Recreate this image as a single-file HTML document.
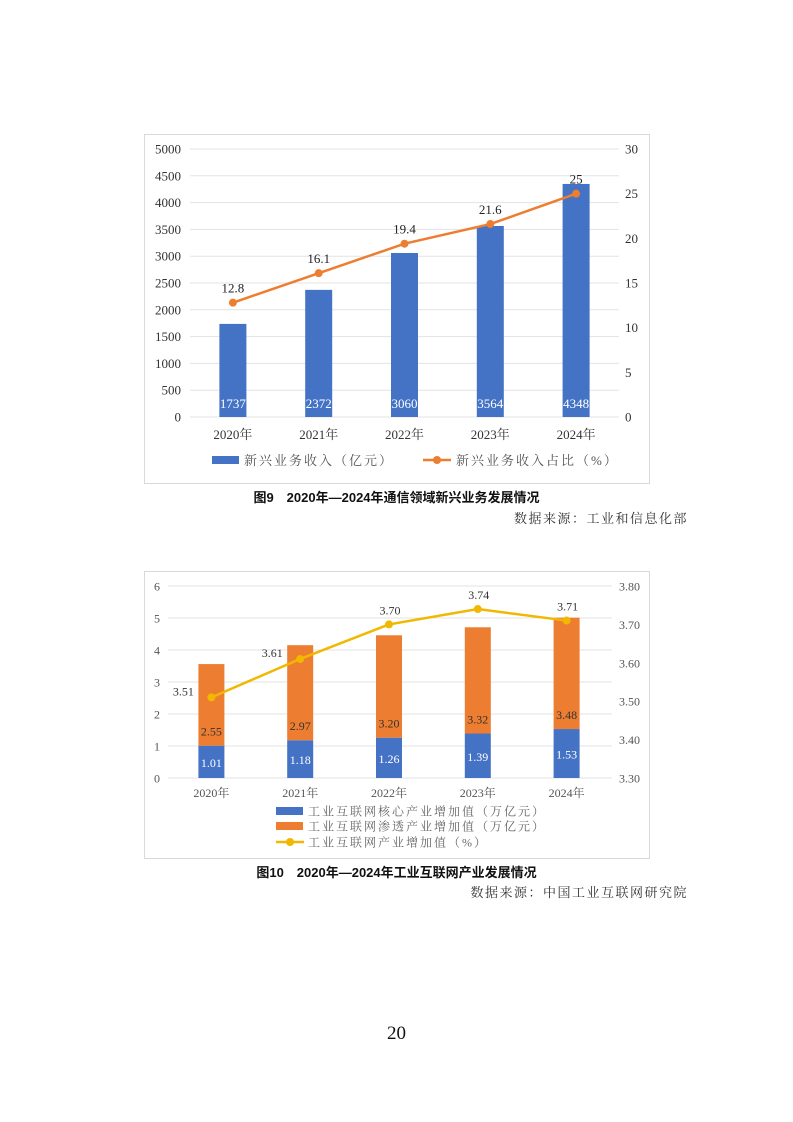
<!DOCTYPE html>
<html><head><meta charset="utf-8">
<style>
html,body{margin:0;padding:0;background:#fff;}
body{width:793px;height:1122px;position:relative;overflow:hidden;font-family:"Liberation Serif","Noto Serif CJK SC",serif;}
.cap{position:absolute;left:0;width:793px;text-align:center;font-family:"Liberation Sans","Noto Sans CJK SC",sans-serif;font-weight:bold;font-size:13px;color:#111;}
.src{position:absolute;right:105px;font-family:"Liberation Serif","Noto Serif CJK SC",serif;font-size:13px;color:#333;letter-spacing:1.5px;}
svg text{font-family:"Liberation Serif","Noto Serif CJK SC",serif;}
</style></head><body>
<svg id="c1" style="position:absolute;left:0;top:0" width="793" height="560"></svg>
<div class="cap" style="top:487px">图9　2020年—2024年通信领域新兴业务发展情况</div>
<div class="src" style="top:508px">数据来源：工业和信息化部</div>
<svg id="c2" style="position:absolute;left:0;top:0" width="793" height="900"></svg>
<div class="cap" style="top:862px">图10　2020年—2024年工业互联网产业发展情况</div>
<div class="src" style="top:882px">数据来源：中国工业互联网研究院</div>
<div style="position:absolute;left:0;width:793px;top:1023px;text-align:center;font-size:19px;color:#111;">20</div>
<script>
const cats1=["2020年","2021年","2022年","2023年","2024年"];
const revenue=[1737,2372,3060,3564,4348];
const share=[12.8,16.1,19.4,21.6,25];
const leftTicks1=[0,500,1000,1500,2000,2500,3000,3500,4000,4500,5000];
const rightTicks1=[0,5,10,15,20,25,30];

const cats2=["2020年","2021年","2022年","2023年","2024年"];
const core=[1.01,1.18,1.26,1.39,1.53];
const pen=[2.55,2.97,3.20,3.32,3.48];
const pct=[3.51,3.61,3.70,3.74,3.71];
const leftTicks2=[0,1,2,3,4,5,6];
const rightTicks2=[3.30,3.40,3.50,3.60,3.70,3.80];

const NS="http://www.w3.org/2000/svg";
function el(p,tag,a,txt){const e=document.createElementNS(NS,tag);for(const k in a)e.setAttribute(k,a[k]);if(txt!==undefined)e.textContent=txt;p.appendChild(e);return e;}

// Chart 1
(function(){
const s=document.getElementById('c1');
const f=el(s,'rect',{x:144.5,y:134.5,width:505,height:349,fill:'#fff',stroke:'#d9d9d9'});


const x0=190,x1=619,yT=149,yB=417;
const y=v=>yB-(v/5000)*(yB-yT);
const y2=v=>yB-(v/30)*(yB-yT);
const bw=(x1-x0)/cats1.length;
const cx=i=>x0+bw*(i+0.5)+0;
leftTicks1.forEach(t=>{
  const g=el(s,'line',{x1:x0,x2:x1,y1:y(t),y2:y(t),stroke:'#e3e3e3','stroke-width':1});
  
  
  const l=el(s,'text',{x:181,y:y(t)+4.5,'text-anchor':'end','font-size':13,fill:'#333'},t);
  
  
});
rightTicks1.forEach(t=>{
  const l=el(s,'text',{x:625,y:y2(t)+4.5,'font-size':13,fill:'#333'},t);
  
  
});
revenue.forEach((v,i)=>{
  const b=el(s,'rect',{x:cx(i)-13.5,y:y(v),width:27,height:yB-y(v),fill:'#4472c4'});
  
  
  const t=el(s,'text',{x:cx(i),y:408,'text-anchor':'middle','font-size':13,fill:'#fff'},v);
  
  
  const c=el(s,'text',{x:cx(i),y:439,'text-anchor':'middle','font-size':13,fill:'#333'},cats1[i]);
  
  
});
const pl=el(s,'polyline',{points:share.map((v,i)=>cx(i)+','+y2(v)).join(' '),fill:'none',stroke:'#ed7d31','stroke-width':2.5});


share.forEach((v,i)=>{
  const d=el(s,'circle',{cx:cx(i),cy:y2(v),r:4,fill:'#ed7d31'});
  
  
  const t=el(s,'text',{x:cx(i),y:y2(v)-10,'text-anchor':'middle','font-size':13,fill:'#222'},v);
  
  
});
const lr=el(s,'rect',{x:212,y:456,width:27,height:8,fill:'#4472c4'});


const lt=el(s,'text',{x:244,y:465,'font-size':13,fill:'#555','letter-spacing':'2'},'新兴业务收入（亿元）');


const ll=el(s,'line',{x1:423,x2:451,y1:460,y2:460,stroke:'#ed7d31','stroke-width':2.5});


const lc=el(s,'circle',{cx:437,cy:460,r:4,fill:'#ed7d31'});


const lt2=el(s,'text',{x:456,y:465,'font-size':13,fill:'#555','letter-spacing':'2'},'新兴业务收入占比（%）');


})();

// Chart 2
(function(){
const s=document.getElementById('c2');
const f=el(s,'rect',{x:144.5,y:571.5,width:505,height:287,fill:'#fff',stroke:'#d9d9d9'});


const x0=168,x1=612,yT=586,yB=778;
const y=v=>yB-(v/6)*(yB-yT);
const y2=v=>yB-((v-3.3)/0.5)*(yB-yT);
const bw=(x1-x0)/cats2.length;
const cx=i=>x0+bw*(i+0.5)-1;
leftTicks2.forEach(t=>{
  const g=el(s,'line',{x1:x0,x2:x1,y1:y(t),y2:y(t),stroke:'#e3e3e3','stroke-width':1});
  
  
  const l=el(s,'text',{x:160,y:y(t)+4.5,'text-anchor':'end','font-size':12,fill:'#555'},t);
  
  
});
rightTicks2.forEach(t=>{
  const l=el(s,'text',{x:619,y:y2(t)+4.5,'font-size':12,fill:'#555'},t.toFixed(2));
  
  
});
core.forEach((v,i)=>{
  const b=el(s,'rect',{x:cx(i)-13,y:y(v),width:26,height:yB-y(v),fill:'#4472c4'});
  
  
  const b2=el(s,'rect',{x:cx(i)-13,y:y(v+pen[i]),width:26,height:y(v)-y(v+pen[i]),fill:'#ed7d31'});
  
  
  const t=el(s,'text',{x:cx(i),y:(y(v)+yB)/2+5,'text-anchor':'middle','font-size':12,fill:'#fff'},v.toFixed(2));
  
  
  const t2=el(s,'text',{x:cx(i),y:y(v)-10,'text-anchor':'middle','font-size':12,fill:'#333'},pen[i].toFixed(2));
  
  
  const c=el(s,'text',{x:cx(i),y:797,'text-anchor':'middle','font-size':12,fill:'#555'},cats2[i]);
  
  
});
const pl=el(s,'polyline',{points:pct.map((v,i)=>cx(i)+','+y2(v)).join(' '),fill:'none',stroke:'#f0b800','stroke-width':2.5});


pct.forEach((v,i)=>{
  const d=el(s,'circle',{cx:cx(i),cy:y2(v),r:4,fill:'#f0b800'});
  
  
  const lx=i<2?cx(i)-28:cx(i)+1, ly=i<2?y2(v)-2:y2(v)-10;
  const t=el(s,'text',{x:lx,y:ly,'text-anchor':'middle','font-size':12,fill:'#333'},v.toFixed(2));
  
  
});
const leg=[['rect','#4472c4','工业互联网核心产业增加值（万亿元）',811],['rect','#ed7d31','工业互联网渗透产业增加值（万亿元）',826],['line','#f0b800','工业互联网产业增加值（%）',842]];
leg.forEach(L=>{
  if(L[0]==='rect'){const r=el(s,'rect',{x:276,y:L[3]-4,width:27,height:8,fill:L[1]});
    
    }
  else{const r=el(s,'line',{x1:276,x2:304,y1:L[3],y2:L[3],stroke:L[1],'stroke-width':2.5});
    
    
    const c=el(s,'circle',{cx:290,cy:L[3],r:4,fill:L[1]});
    
    }
  const t=el(s,'text',{x:308,y:L[3]+4.5,'font-size':12,fill:'#666','letter-spacing':'2'},L[2]);
  
  
});
})();
</script>
</body></html>
